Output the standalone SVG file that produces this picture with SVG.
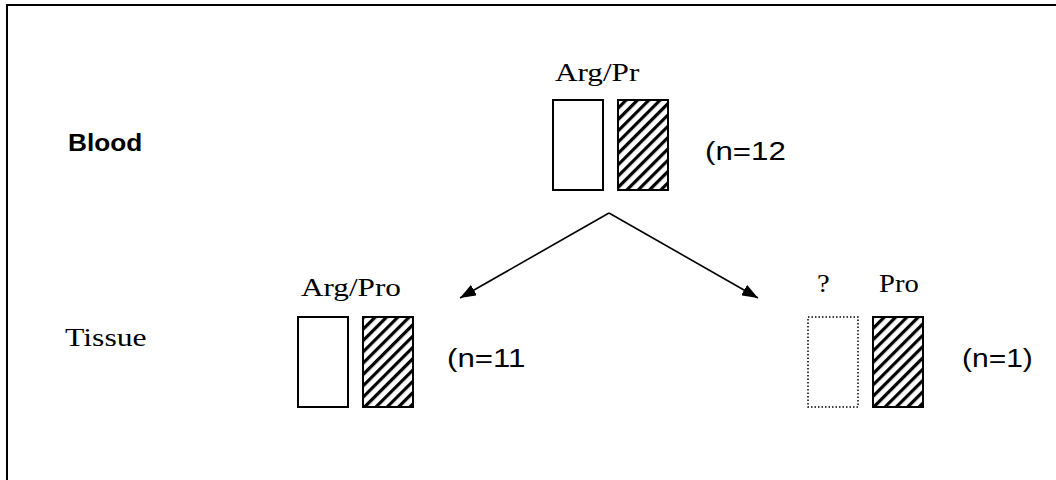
<svg xmlns="http://www.w3.org/2000/svg" width="1056" height="480" viewBox="0 0 1056 480">
<defs>
<pattern id="hatch" patternUnits="userSpaceOnUse" width="8" height="8" patternTransform="rotate(45)">
<rect x="0" y="0" width="3.2" height="8" fill="#000"/>
</pattern>
<marker id="arrL" viewBox="0 0 16 12" markerWidth="16" markerHeight="12" refX="16" refY="6" orient="auto" markerUnits="userSpaceOnUse">
<path d="M0,0 L16,6 L0,12 Z" fill="#000"/>
</marker>
</defs>
<style>
.serif{font-family:"Liberation Serif","Times New Roman",serif;font-size:26px;fill:#000}
.sans{font-family:"Liberation Sans",Arial,sans-serif;font-size:25px;fill:#000}
.bold{font-family:"Liberation Sans",Arial,sans-serif;font-size:23px;font-weight:bold;fill:#000}
.box{fill:#fff;stroke:#000;stroke-width:2}
.hbox{fill:url(#hatch);stroke:#000;stroke-width:2}
.dbox{fill:#fff;stroke:#000;stroke-width:1.5;stroke-dasharray:1.5,2}
.conn{stroke:#000;stroke-width:1.6;fill:none}
</style>
<rect width="1056" height="480" fill="#fff"/>
<rect x="7" y="5" width="1070" height="500" fill="none" stroke="#000" stroke-width="2"/>
<g id="label-blood"><text class="bold" transform="translate(68,151) scale(1.14,1)">Blood</text></g>
<g id="label-tissue"><text class="serif" transform="translate(65,346) scale(1.22,1)">Tissue</text></g>
<g id="node-blood">
<text class="serif" transform="translate(555,81) scale(1.2,1)">Arg/Pr</text>
<rect class="box" x="553" y="100" width="50" height="90"/>
<rect class="hbox" x="618" y="100" width="50" height="90"/>
<text class="sans" transform="translate(705,160) scale(1.25,1)">(n=12</text>
</g>
<g id="node-tissue-left">
<text class="serif" transform="translate(301,296) scale(1.2,1)">Arg/Pro</text>
<rect class="box" x="298" y="317" width="50" height="90"/>
<rect class="hbox" x="363" y="317" width="50" height="90"/>
<text class="sans" transform="translate(447,367) scale(1.25,1)">(n=11</text>
</g>
<g id="node-tissue-right">
<text class="serif" transform="translate(817,292) scale(1.1,1)">?</text>
<text class="serif" transform="translate(879,292) scale(1.1,1)">Pro</text>
<rect class="dbox" x="808" y="317" width="50" height="90"/>
<rect class="hbox" x="873" y="317" width="50" height="90"/>
<text class="sans" transform="translate(962,367) scale(1.2,1)">(n=1)</text>
</g>
<g id="connectors">
<line class="conn" x1="609" y1="213" x2="460" y2="298" marker-end="url(#arrL)"/>
<line class="conn" x1="609" y1="213" x2="758" y2="298" marker-end="url(#arrL)"/>
</g>
</svg>
